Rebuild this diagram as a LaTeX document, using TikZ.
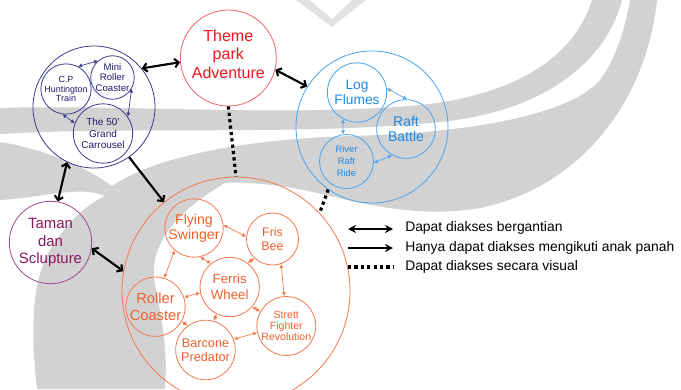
\documentclass[tikz,border=0pt]{standalone}
\usepackage{fontspec}
\setmainfont{Liberation Sans}
\usetikzlibrary{arrows.meta}
\definecolor{wm}{HTML}{D2D2D2}
\definecolor{wmlight}{HTML}{E2E2E2}
\definecolor{purc}{HTML}{3C3A8C}
\definecolor{purt}{HTML}{1F1B6B}
\definecolor{redc}{HTML}{F06464}
\definecolor{redt}{HTML}{F0141E}
\definecolor{bluc}{HTML}{4AA3F0}
\definecolor{blut}{HTML}{1E88E5}
\definecolor{magc}{HTML}{9A4A8A}
\definecolor{magt}{HTML}{8A1560}
\definecolor{orac}{HTML}{F2794E}
\definecolor{orat}{HTML}{F0602A}
\begin{document}
\begin{tikzpicture}[x=0.75pt,y=-0.75pt,
  ring/.style={circle, draw, inner sep=0pt, line width=0.6pt, align=center},
  fs/.style 2 args={font=\fontsize{#1}{#2}\selectfont},
  small/.style={line width=0.5pt, {Latex[length=3pt,width=3pt]}-{Latex[length=3pt,width=3pt]}},
  both/.style={line width=1.6pt, {Straight Barb[length=3pt,width=6.5pt]}-{Straight Barb[length=3pt,width=6.5pt]}},
  oneway/.style={line width=1.6pt, -{Straight Barb[length=3pt,width=6.5pt]}},
  visual/.style={line width=2.4pt, dash pattern=on 2.4pt off 2.4pt},
  legtext/.style={anchor=west, font=\fontsize{10.4}{12}\selectfont, inner sep=0pt}
]
\useasboundingbox (0,0) rectangle (681,389);
\fill[white] (0,0) rectangle (681,389);

% watermark
\fill[wm] (0,108) .. controls (120,104) and (300,118) .. (430,104)
  .. controls (520,92) and (575,55) .. (592,0) -- (622,0)
  .. controls (605,65) and (540,112) .. (440,122)
  .. controls (300,136) and (130,126) .. (0,134) -- cycle;
\fill[wm] (0,142) .. controls (50,150) and (90,170) .. (112,186)
  .. controls (150,160) and (230,140) .. (350,136)
  .. controls (470,133) and (570,115) .. (600,80)
  .. controls (615,60) and (625,30) .. (630,0) -- (657,0)
  .. controls (648,90) and (590,185) .. (480,208)
  .. controls (400,222) and (330,192) .. (280,186)
  .. controls (255,183) and (240,182) .. (225,183)
  .. controls (170,215) and (148,250) .. (155,285)
  .. controls (162,320) and (168,350) .. (165,389) -- (37,389)
  .. controls (30,330) and (32,280) .. (50,250)
  .. controls (65,225) and (85,205) .. (105,196)
  .. controls (80,185) and (40,198) .. (0,200) -- cycle;
\fill[wmlight] (296,0) -- (310,0) -- (332,19) -- (352,0) -- (366,0) -- (332,27) -- cycle;

% purple group
\node[ring, draw=purc, minimum size=91.5pt] (P) at (94,107) {};
\node[ring, draw=purc, text=purt, minimum size=35pt, fs={6.7}{7.3}] (cp) at (66,89) {C.P\\Huntington\\Train};
\node[ring, draw=purc, text=purt, minimum size=30.5pt, fs={7.2}{7.7}] (mini) at (112.5,77.5) {Mini\\Roller\\Coaster};
\node[ring, draw=purc, text=purt, minimum size=44.5pt, fs={7.5}{8.8}] (car) at (103,133.5) {The 50'\\Grand\\Carrousel};
\draw[small, purc] (cp.62) -- (mini.131);
\draw[small, purc] (mini.-30) -- (car.34);
\draw[small, purc] (cp.-98) -- (car.160);

% theme park
\node[ring, draw=redc, minimum size=72pt] (T) at (228.3,58) {};
\node[text=redt, align=center, inner sep=0pt, fs={12}{13.9}] (Tt) at (228.3,54) {Theme\\park\\Adventure};

% blue group
\node[ring, draw=bluc, minimum size=114pt] (B) at (372,127) {};
\node[ring, draw=bluc, text=blut, minimum size=44.5pt, fs={10.3}{11.3}] (log) at (357,92.5) {Log\\Flumes};
\node[ring, draw=bluc, text=blut, minimum size=44pt, fs={10.5}{11.3}] (raft) at (406,129) {Raft\\Battle};
\node[ring, draw=bluc, text=blut, minimum size=40.5pt, fs={7}{9}] (river) at (346.5,161.5) {River\\Raft\\Ride};
\draw[small, bluc] (log.8) -- (raft.88);
\draw[small, bluc] (log.-118) -- (river.97);
\draw[small, bluc] (river.-3) -- (raft.-118);

% taman
\node[ring, draw=magc, text=magt, minimum size=61.8pt, fs={11.2}{12.9}] (tam) at (50.5,242.5) {Taman\\dan\\Sclupture};

% orange group
\node[ring, draw=orac, minimum size=171pt] (O) at (236,291) {};
\node[ring, draw=orac, text=orat, minimum size=41.5pt, fs={10.6}{11.3}] (fly) at (194,228) {Flying\\Swinger};
\node[ring, draw=orac, text=orat, minimum size=39pt, fs={9.3}{10.7}] (fris) at (272.5,239) {Fris\\Bee};
\node[ring, draw=orac, text=orat, minimum size=44.5pt, fs={10}{11.8}] (fer) at (229.7,287) {Ferris\\Wheel};
\node[ring, draw=orac, text=orat, minimum size=44.5pt, fs={11}{12.5}] (rol) at (155.5,306.7) {Roller\\Coaster};
\node[ring, draw=orac, text=orat, minimum size=44.2pt, fs={7.9}{8.5}] (str) at (286.3,326) {Strett\\Fighter\\Revolution};
\node[ring, draw=orac, text=orat, minimum size=44.7pt, fs={9.5}{10.5}] (bar) at (205.5,350) {Barcone\\Predator};
\draw[small, orac] (fly.6) -- (fris.175);
\draw[small, orac] (fly.-131) -- (rol.73);
\draw[small, orac] (fly.-78) -- (fer.129);
\draw[small, orac] (fris.-133) -- (fer.53);
\draw[small, orac] (fris.-71) -- (str.94.5);
\draw[small, orac] (rol.18) -- (fer.191);
\draw[small, orac] (rol.-29) -- (bar.126);
\draw[small, orac] (fer.-116) -- (bar.74.6);
\draw[small, orac] (fer.-41) -- (str.151.6);
\draw[small, orac] (str.193.5) -- (bar.21);

% main connectors
\draw[both] (P.39) -- (T.185);
\draw[both] (T.-14) -- (B.148);
\draw[oneway] (P.-55) -- (O.129);
\draw[both] (P.-116) -- (tam.80);
\draw[both] (tam.-8.5) -- (O.170);
\draw[visual] (T.south) -- (O.north);
\draw[visual] (B.-125) -- (O.43);

% legend
\coordinate (l1a) at (348,229); \coordinate (l1b) at (393,229);
\coordinate (l2a) at (348,248); \coordinate (l2b) at (393,248);
\coordinate (l3a) at (348,267); \coordinate (l3b) at (393,267);
\draw[line width=1.6pt, {Stealth[length=6pt,width=6pt]}-{Stealth[length=6pt,width=6pt]}] (l1a) -- (l1b);
\draw[line width=1.6pt, -{Stealth[length=6pt,width=6pt]}] (l2a) -- (l2b);
\draw[visual] (l3a) -- (l3b);
\node[legtext] (t1) at (405,228) {Dapat diakses bergantian};
\node[legtext] (t2) at (405,247.5) {Hanya dapat diakses mengikuti anak panah};
\node[legtext] (t3) at (405,267) {Dapat diakses secara visual};
\end{tikzpicture}
\end{document}
